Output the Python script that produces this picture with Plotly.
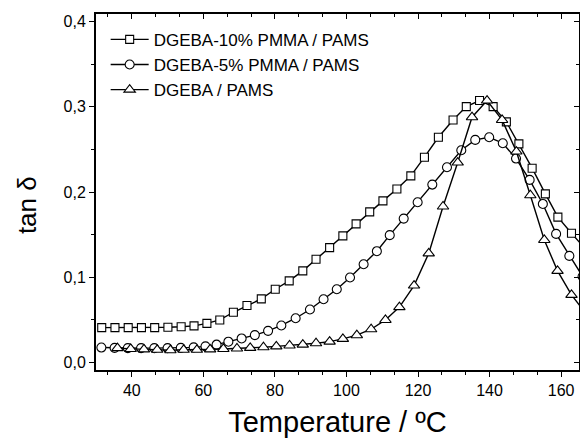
import plotly.graph_objects as go

# Series: DGEBA-10% PMMA / PAMS (squares)
t_10 = [31.6, 35.3, 39.0, 42.7, 46.4, 50.1, 53.8, 57.4, 61.0, 64.6, 68.4, 72.2, 76.2, 80.1, 84.0,
        87.8, 91.5, 95.3, 99.0, 102.7, 106.5, 110.2, 114.1, 118.0, 121.8, 125.7, 129.8, 133.5,
        137.2, 141.0, 144.7, 148.2, 151.9, 155.6, 159.1, 162.9, 166.6]
tan_10 = [0.041, 0.041, 0.041, 0.041, 0.041, 0.0415, 0.042, 0.043, 0.046, 0.050, 0.059, 0.067,
          0.0747, 0.086, 0.0958, 0.1075, 0.1212, 0.1348, 0.1485, 0.1626, 0.1767, 0.1896, 0.2036,
          0.2189, 0.2408, 0.2642, 0.2845, 0.3001, 0.3072, 0.3001, 0.2822, 0.2564, 0.2279, 0.1978,
          0.1705, 0.1517, 0.134]

# Series: DGEBA-5% PMMA / PAMS (circles)
t_5 = [31.5, 35.2, 38.9, 42.6, 46.3, 50.0, 53.7, 57.3, 60.6, 63.7, 67.0, 70.7, 74.4, 78.1, 81.8,
       85.8, 89.8, 93.6, 97.3, 101.0, 104.8, 108.5, 112.1, 116.0, 119.9, 124.0, 128.1, 132.1,
       136.0, 139.9, 143.7, 147.4, 151.2, 154.9, 158.6, 162.3, 166.0]
tan_5 = [0.0176, 0.0172, 0.0170, 0.0170, 0.0170, 0.0170, 0.0172, 0.0178, 0.0190, 0.0210, 0.0245,
         0.0283, 0.0322, 0.0372, 0.0435, 0.0520, 0.0622, 0.0743, 0.086, 0.0997, 0.1153, 0.1306,
         0.1494, 0.1688, 0.188, 0.2087, 0.229, 0.249, 0.2611, 0.2642, 0.2572, 0.2392, 0.2142,
         0.1860, 0.1509, 0.1251, 0.101]

# Series: DGEBA / PAMS (triangles)
t_0 = [36.0, 39.7, 43.4, 47.1, 50.8, 54.5, 58.2, 61.9, 65.6, 69.4, 73.1, 76.8, 80.4, 84.1, 87.8,
       91.5, 95.3, 99.0, 102.9, 106.9, 110.9, 114.8, 118.9, 123.0, 127.0, 131.1, 135.1, 139.3,
       143.5, 147.5, 151.4, 155.3, 159.0, 162.9, 166.8]
tan_0 = [0.017, 0.016, 0.0155, 0.015, 0.0145, 0.015, 0.015, 0.0155, 0.016, 0.0165, 0.0172, 0.018,
         0.019, 0.020, 0.021, 0.0227, 0.0246, 0.0278, 0.0321, 0.0391, 0.050, 0.065, 0.0903, 0.128,
         0.183, 0.2345, 0.2877, 0.3072, 0.2845, 0.2474, 0.1962, 0.1438, 0.1075, 0.0794, 0.058]

names = ["DGEBA-10% PMMA / PAMS", "DGEBA-5% PMMA / PAMS", "DGEBA / PAMS"]
symbols = ["square", "circle", "triangle-up"]
sizes = [8, 9, 10]

FONT = "Liberation Sans, Arial, sans-serif"

fig = go.Figure()
for x, y, n, s, sz in zip([t_10, t_5, t_0], [tan_10, tan_5, tan_0], names, symbols, sizes):
    fig.add_trace(go.Scatter(
        x=x, y=y, name=n, mode="lines+markers",
        line=dict(color="black", width=1.4),
        marker=dict(symbol=s, size=sz, color="white", line=dict(color="black", width=1.1)),
    ))

# empty trace so the mirrored frame axes (top / right, inward ticks) are drawn
fig.add_trace(go.Scatter(x=[], y=[], xaxis="x2", yaxis="y2", showlegend=False, hoverinfo="skip"))

xr = [30, 165]
yr = [-0.0087, 0.4087]

axis_common = dict(showgrid=False, zeroline=False, linecolor="black", linewidth=2,
                   tickcolor="black", tickwidth=1.3, color="black", automargin=False)

fig.update_layout(
    width=580, height=441,
    margin=dict(l=96, r=1, t=14, b=71),
    paper_bgcolor="white", plot_bgcolor="white",
    separators=", ",
    font=dict(family=FONT, color="black", size=16),
    showlegend=True,
    legend=dict(x=0.02, y=0.978, xanchor="left", yanchor="top",
                bgcolor="rgba(0,0,0,0)", font=dict(size=17, family=FONT),
                itemsizing="trace", itemwidth=38, tracegroupgap=0),
    xaxis=dict(range=xr, dtick=20, tick0=0, ticks="outside", ticklen=5,
               tickfont=dict(size=16, family=FONT),
               minor=dict(dtick=20 / 3, tick0=0, ticks="outside", ticklen=3, tickcolor="black"),
               title=dict(text="Temperature / ºC", font=dict(size=29, family=FONT), standoff=13),
               **axis_common),
    yaxis=dict(range=yr, dtick=0.1, tick0=0, tickformat=".1f", ticks="outside", ticklen=5,
               tickfont=dict(size=16, family=FONT),
               minor=dict(dtick=0.05, tick0=0, ticks="outside", ticklen=3, tickcolor="black"),
               **axis_common),
    xaxis2=dict(range=xr, overlaying="x", side="top", anchor="y2", dtick=20, tick0=0,
                ticks="inside", ticklen=5, showticklabels=False,
                minor=dict(dtick=20 / 3, tick0=0, ticks="inside", ticklen=3, tickcolor="black"),
                **axis_common),
    yaxis2=dict(range=yr, overlaying="y", side="right", anchor="x2", dtick=0.1, tick0=0,
                ticks="inside", ticklen=5, showticklabels=False,
                minor=dict(dtick=0.05, tick0=0, ticks="inside", ticklen=3, tickcolor="black"),
                **axis_common),
    annotations=[dict(text="tan δ", textangle=-90, xref="paper", yref="paper",
                      x=-0.143, y=0.463, xanchor="center", yanchor="middle",
                      showarrow=False, font=dict(size=26, family=FONT, color="black"))],
)

fig.write_html("out.html", post_script="document.body.style.margin='0';",
               config={"displayModeBar": False})
